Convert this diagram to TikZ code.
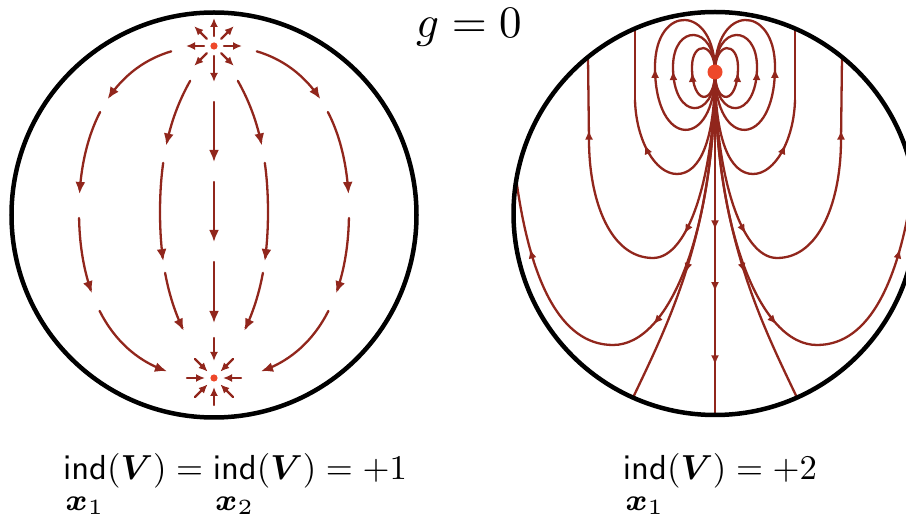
\documentclass[tikz,border=0pt]{standalone}
\usepackage{amsmath}
\usepackage{graphicx}
\usetikzlibrary{arrows.meta,decorations.markings,calc}
\definecolor{flow}{RGB}{145,38,28}
\definecolor{pole}{RGB}{238,72,42}
% right half of the meridian field (left sphere), mirrored for the left half
\newcommand\halfmeridians{%
 \draw[lline,lhead] plot[domain=0.18:0.55,samples=16,smooth] ({bz(\x,214,300,349,349)},{bz(\x,46,44,110,212)});
 \draw[lline,lhead] plot[domain=0.615:0.94,samples=16,smooth] ({bz(\x,214,300,349,349)},{bz(\x,46,44,110,212)});
 \draw[lline,lhead] plot[domain=0.02:0.30,samples=16,smooth] ({bz(\x,349,349,300,214)},{bz(\x,212,314,380,378)});
 \draw[lline,lhead] plot[domain=0.38:0.80,samples=16,smooth] ({bz(\x,349,349,300,214)},{bz(\x,212,314,380,378)});
 \draw[lline,lhead] plot[domain=0.28:0.69,samples=16,smooth] ({bz(\x,214,245,268,268)},{bz(\x,46,85,130,212)});
 \draw[lline] plot[domain=0.78:1,samples=10,smooth] ({bz(\x,214,245,268,268)},{bz(\x,46,85,130,212)});
 \draw[lline,lhead] plot[domain=0:0.22,samples=10,smooth] ({bz(\x,268,268,245,214)},{bz(\x,212,294,339,378)});
 \draw[lline,lhead] plot[domain=0.28:0.63,samples=16,smooth] ({bz(\x,268,268,245,214)},{bz(\x,212,294,339,378)});
}
% left half of the index-2 field (right sphere), mirrored for the right half
\newcommand\halfdipole{%
 \draw[rline,rarr=0.5] (715,72) .. controls (715,106) and (692,106) .. (692,67) .. controls (692,41) and (715,41) .. (715,72);
 \draw[rline,rarr=0.5] (715,72) .. controls (715,121) and (673,121) .. (673,67) .. controls (673,23.5) and (715,23.5) .. (715,72);
 \draw[rline,rarr=0.53] (715,72) .. controls (715,150) and (655,150) .. (655,67) .. controls (655,3.5) and (715,3.5) .. (715,72);
 \draw[rline] (715,72) .. controls (715,140) and (700,174) .. (677,174);
 \draw[rline,rarr=0.5] (677,174) .. controls (655,174) and (636,140) .. (635,100);
 \draw[rline] (635,100) -- (635,28.6);
 \draw[rline,rarr=0.8] (715,72) .. controls (715,170) and (690,258) .. (653,258);
 \draw[rline] (653,258) .. controls (610,258) and (589,200) .. (589,140);
 \draw[rline,rarr=0.12] (589,140) -- (588,57.1);
 \draw[rline,rarr=0.85] (715,72) .. controls (715,230) and (670,345) .. (613,345);
 \draw[rline,rarr=0.66] (613,345) .. controls (560,345) and (530,280) .. (516.3,180);
 \draw[rline,rarr=0.6] (715,72) .. controls (715,230) and (670,320) .. (633,397.6);
}
\newcommand\indexat[1]{\mathop{\mathsf{ind}}\limits_{\rule{0pt}{7pt}\scalebox{1.25}{$\scriptstyle\boldsymbol{x}_{#1}$}}}
\begin{document}
\begin{tikzpicture}[x=1pt,y=-1pt,
  declare function={bz(\s,\ba,\bb,\bc,\bd)=(1-\s)*(1-\s)*(1-\s)*\ba+3*(1-\s)*(1-\s)*\s*\bb+3*(1-\s)*\s*\s*\bc+\s*\s*\s*\bd;},
  lline/.style={flow,line width=2.3pt,line cap=round},
  rline/.style={flow,line width=2.3pt,line cap=round},
  lhead/.style={-{Latex[length=12pt,width=10pt]}},
  shead/.style={-{Latex[length=9pt,width=8pt]}},
  rarr/.style={postaction={decorate},decoration={markings,mark=at position #1 with {\arrow{Latex[length=9.5pt,width=8pt]}}}},
  rim/.style={black,line width=4.5pt},
  lbl/.style={anchor=base,inner sep=0pt}]
\useasboundingbox (0,0) rectangle (906,521);
\clip (0,0) rectangle (906,521);
\coordinate (N) at (214,46);
\coordinate (S) at (214,378);
\coordinate (C1) at (214,215);
\coordinate (P) at (715,72);
\coordinate (C2) at (715,213.5);
\coordinate (B2) at (715,415);
% ---------- left sphere
\halfmeridians
\begin{scope}[xshift=428pt,xscale=-1]
 \halfmeridians
\end{scope}
\draw[lline,lhead] (214,102) -- (214,162);
\draw[lline,lhead] (214,182) -- (214,242);
\draw[lline,lhead] (214,262) -- (214,323);
\draw[lline,shead] (214,56) -- (214,82);
\draw[lline,shead] (214,338) -- (214,361);
\foreach \a in {0,45,135,180,225,270,315}
  \draw[lline,shead] ($(N)+(\a:10)$) -- ($(N)+(\a:28)$);
\foreach \a in {0,45,90,135,180,225,315}
  \draw[lline,shead] ($(S)+(\a:27)$) -- ($(S)+(\a:9)$);
\fill[pole] (N) circle[radius=3.6pt];
\fill[pole] (S) circle[radius=3.6pt];
\draw[rim] (C1) circle[radius=202.5pt];
% ---------- right sphere
\begin{scope}
 \clip (C2) circle[radius=201.5pt];
 \halfdipole
 \begin{scope}[xshift=1430pt,xscale=-1]
  \halfdipole
 \end{scope}
 \draw[rline,line width=2.6pt,postaction={decorate},decoration={markings,
   mark=at position 0.46 with {\arrow{Latex[length=9.5pt,width=8pt]}},
   mark=at position 0.64 with {\arrow{Latex[length=9.5pt,width=8pt]}},
   mark=at position 0.854 with {\arrow{Latex[length=9.5pt,width=8pt]}}}] (P) -- (B2);
\end{scope}
\fill[pole] (P) circle[radius=7.5pt];
\draw[rim] (C2) circle[radius=201.5pt];
% ---------- texts
\node[lbl,scale=4.5] (gtitle) at (469,38) {$g=0$};
\node[lbl,scale=3.47] (lidx) at (235,480) {$\displaystyle \indexat{1}(\boldsymbol{V})=\indexat{2}(\boldsymbol{V})=+1$};
\node[lbl,scale=3.47] (ridx) at (720,480) {$\displaystyle \indexat{1}(\boldsymbol{V})=+2$};
\end{tikzpicture}
\end{document}
